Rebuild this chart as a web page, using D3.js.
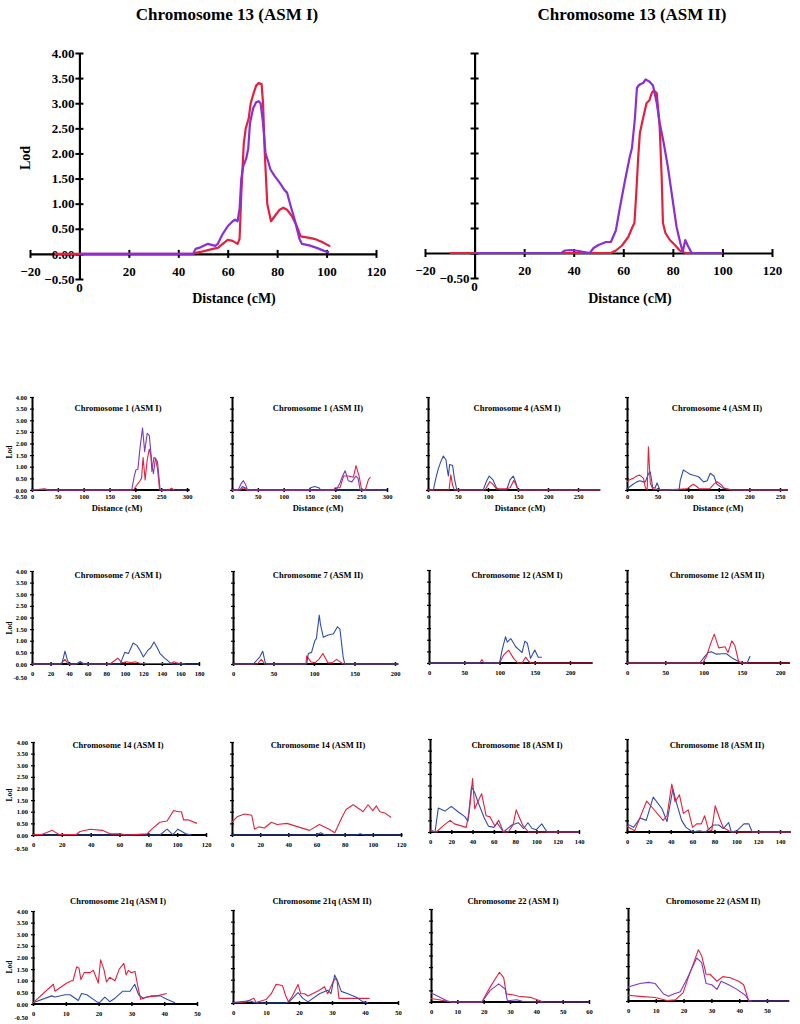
<!DOCTYPE html>
<html><head><meta charset="utf-8">
<script src="https://cdn.jsdelivr.net/npm/d3@7"></script>
<style>
body{margin:0;background:#fff}
svg{display:block}
text{font-family:"Liberation Serif","Times New Roman",serif;font-weight:bold;fill:#000}
</style>
</head><body>
<svg id="c" width="800" height="1024"></svg>
<script>
// ---------------- DATA ----------------
const bigTitles = ["Chromosome 13 (ASM I)", "Chromosome 13 (ASM II)"];
const bigXTicks = [-20, 20, 40, 60, 80, 100, 120];
const bigYTicks = [-0.5, 0, 0.5, 1, 1.5, 2, 2.5, 3, 3.5, 4];
const smallYTicks = [0, 0.5, 1, 1.5, 2, 2.5, 3, 3.5, 4];

const chr13_I_red = [[-10,0],[46,0],[47,0.02],[50,0.05],[54,0.1],[56,0.12],[58,0.2],[60,0.28],[62,0.26],[64,0.2],[64.8,0.3],[65.5,1.2],[66.5,2.2],[67.3,2.5],[68.5,2.7],[69.3,3.0],[70.5,3.2],[71.5,3.35],[72.5,3.4],[73.7,3.38],[74.3,3.0],[75,2.0],[76,1.0],[77.5,0.65],[79,0.75],[81,0.88],[82.5,0.92],[84,0.88],[86,0.75],[88,0.55],[89.5,0.35],[92,0.33],[95,0.3],[98,0.24],[101.5,0.15]];
const chr13_I_purple = [[0,0],[46,0],[47,0.1],[49,0.13],[52,0.2],[55,0.16],[56,0.2],[58,0.4],[60,0.55],[62,0.65],[63,0.68],[64,0.65],[64.8,0.9],[65.5,1.5],[66.3,1.75],[67.5,1.9],[68.3,2.1],[69,2.6],[70.3,2.9],[71.5,3.02],[72.5,3.04],[73.3,3.0],[74.3,2.6],[75.3,2.0],[76.3,1.85],[77.3,1.68],[79,1.55],[81,1.42],[83,1.27],[84,1.22],[85.5,0.95],[87,0.7],[89,0.3],[90,0.2],[93,0.17],[96,0.12],[99,0.06],[101,0.03]];
const chr13_II_red = [[-10,0],[55,0],[57,0.05],[59.5,0.15],[62,0.32],[63.7,0.52],[64.5,0.6],[65.3,1.25],[66,1.9],[66.7,2.4],[68,2.7],[69.4,3.0],[70.5,3.05],[71.5,3.2],[72.3,3.25],[73.5,3.2],[74.7,2.5],[75.5,1.5],[76,0.6],[77,0.4],[78.8,0.26],[81,0.15],[82.8,0.05],[85,0],[100,0]];
const chr13_II_purple = [[0,0],[35,0],[36.5,0.05],[39,0.06],[42,0.04],[46.5,0],[48,0.1],[50,0.16],[53,0.22],[55,0.22],[57,0.45],[58.6,0.9],[60.5,1.4],[62.6,1.92],[63.5,2.1],[64.7,2.7],[65.5,3.3],[66.2,3.35],[67,3.38],[68,3.4],[69,3.47],[70.5,3.43],[72,3.35],[73.5,3.0],[74.7,2.6],[76.3,2.2],[78,1.72],[79.8,1.1],[81.5,0.52],[83,0.2],[84,0.02],[85,0.26],[86,0.15],[87.6,0],[100,0]];

const chr1_I_purple = [[0,0],[25,0.03],[30,0],[193,0],[198,0.6],[201,0.86],[205,0.9],[209,1.8],[214,2.67],[218,1.65],[223,2.44],[227,2.35],[232,1.15],[235,0.7],[239,1.37],[243,1.2],[248,0],[300,0]];
const chr1_I_red = [[0,0],[25,0.05],[30,0],[196,0],[209,0.4],[212,0.5],[215,1.4],[219,0.43],[223,1.3],[227,1.76],[230,1.5],[232,0.8],[236,1.4],[239,1.35],[243,0.9],[247,0],[265,0],[270,0.08],[275,0]];
const chr1_II_purple = [[0,0],[12,0],[17,0.25],[22,0.4],[26,0.25],[30,0],[196,0],[203,0.05],[209,0.3],[214,0.6],[219,0.83],[225,0.4],[232,0.35],[240,0.6],[244,0.5],[248,0],[300,0]];
const chr1_II_blue = [[0,0],[15,0],[20,0.15],[25,0.1],[30,0],[148,0],[152,0.1],[160,0.15],[168,0.1],[172,0],[300,0]];
const chr1_II_red = [[0,0],[16,0],[22,0.1],[28,0],[196,0],[200,0.1],[209,0.1],[216,0.6],[225,0.6],[235,0.55],[240,1.05],[246,0.6],[251,0],[258,0],[264,0.45],[268,0.55]];

const chr4_I_blue = [[0,0],[9,0],[13,0.5],[17,0.9],[21,1.2],[25.5,1.46],[30,1.3],[32,0.9],[34,0.6],[36,1.1],[41,1.05],[44,0.5],[48,0],[92,0],[97,0.35],[102,0.6],[108,0.45],[114,0.1],[120,0],[131,0],[137,0.45],[142,0.6],[146,0.35],[150,0],[287,0]];
const chr4_I_red = [[0,0],[35,0],[38,0.65],[41,0.2],[44,0],[95,0],[103,0.36],[108,0.25],[114,0.05],[130,0.05],[137,0.1],[143,0.42],[147,0.2],[150,0],[287,0]];
const chr4_II_red = [[0,0.36],[5,0.45],[10,0.5],[16,0.6],[21,0.64],[27,0.5],[30,0.1],[33,0],[35,1.86],[38,0.3],[42,0.05],[60,0],[98,0.05],[103,0.15],[108,0.25],[114,0.15],[118,0.05],[135,0.05],[142,0.25],[147,0.36],[153,0.25],[158,0.1],[169,0],[263,0]];
const chr4_II_blue = [[0,0.05],[5,0.15],[10,0.25],[16,0.35],[21,0.4],[27,0.35],[30,0.35],[35,0.7],[38,0.78],[42,0.1],[46,0.1],[49,0.3],[54,0],[85,0],[87,0.4],[92,0.86],[97,0.78],[103,0.68],[110,0.62],[117,0.57],[125,0.35],[131,0.4],[136,0.72],[142,0.6],[147,0.25],[155,0.1],[161,0.05],[175,0],[263,0]];

const chr7_I_blue = [[0,0],[32,0],[34,0.3],[35.5,0.55],[38,0.2],[40,0],[48,0],[52,0.1],[56,0],[95,0],[97,0.2],[100,0.5],[104,0.45],[109,0.9],[113,0.8],[117,0.55],[120,0.3],[125,0.6],[128,0.7],[131.5,0.95],[135,0.7],[138,0.45],[143,0.25],[149,0.05],[152,0],[180,0]];
const chr7_I_red = [[0,0],[31,0],[35.5,0.2],[39,0],[48,0],[52,0.1],[56,0],[84,0],[92.5,0.25],[97,0.05],[102,0.1],[107,0.05],[111,0.1],[117,0.02],[150,0.02],[153,0.1],[157,0.03],[161,0.03],[165,0]];
const chr7_II_blue = [[0,0],[25,0],[33,0.3],[36.7,0.55],[39.5,0.1],[41,0],[91,0],[93,0.45],[97,0.5],[101,1.0],[103,1.1],[106.5,2.1],[108,1.7],[111.5,1.15],[117.6,1.25],[124,1.3],[129,1.6],[132,1.5],[136,0.3],[138,0],[204,0]];
const chr7_II_red = [[0,0],[30,0],[35,0.2],[39,0],[90,0],[91,0.35],[96,0.1],[101,0.05],[106,0.2],[111,0.45],[117,0.05],[122,0.05],[128,0.2],[136,0],[204,0]];

const chr12_I_blue = [[0,0],[100,0],[104,0.6],[108.6,1.13],[111,0.9],[116,1.05],[123,0.7],[132,0.45],[136,0.94],[139.5,0.85],[144,0.2],[150,0.56],[155,0.25],[160,0.25]];
const chr12_I_red = [[0,0],[72,0],[75,0.15],[78,0],[100,0],[106,0.35],[113,0.55],[120,0.2],[126,0],[132,0],[137,0.25],[142,0.05],[145,0],[232,0]];
const chr12_II_red = [[0,0],[99,0],[104,0.3],[109,0.8],[114,1.24],[120,0.65],[128,0.7],[132,0.45],[137,0.95],[141,0.75],[146,0.05],[150,0],[213,0]];
const chr12_II_blue = [[0,0],[95,0],[101,0.25],[106,0.45],[110,0.48],[117,0.38],[124,0.4],[130,0.4],[138,0.2],[144,0.1],[150,0],[157,0],[161,0.3]];

const chr14_I_red = [[0,0.02],[6,0.02],[13.4,0.2],[18,0.02],[30,0.02],[32.6,0.15],[39.6,0.25],[48,0.2],[53.5,0.05],[60.5,0.05],[65,0],[79,0.05],[82.4,0.25],[88,0.55],[93,0.6],[97.5,1.05],[101,1.0],[103,1.0],[104.4,0.65],[108,0.65],[113.7,0.5]];
const chr14_I_blue = [[0,0],[88,0],[93,0.25],[97,0.02],[100.5,0.25],[106,0.05],[110,0]];
const chr14_II_red = [[0,0.55],[4,0.8],[9,0.9],[14,0.85],[16,0.25],[19,0.35],[23,0.3],[28,0.55],[32,0.45],[39,0.5],[47,0.35],[55,0.2],[62,0.45],[69,0.25],[73,0.1],[78,0.75],[81,1.1],[86,1.3],[91,1.1],[93,1.0],[96.6,1.3],[100,1.05],[102.5,1.25],[105,1.0],[108.5,0.95],[113,0.75]];
const chr14_II_blue = [[0,0],[60,0],[63,0.1],[66,0],[88,0],[91,0.05],[94,0],[120,0]];

const chr18_I_blue = [[0,0.1],[4.7,0],[7.8,1.03],[14,0.9],[20,1.1],[27,0.85],[33,0.65],[35.6,0.45],[39,1.95],[42,1.7],[45,1.3],[51,0.6],[55,0.25],[60,0.2],[63,0.4],[69,0],[77,0.3],[83,0.4],[88,0.15],[92,0.4],[96,0.15],[100,0.1],[105,0.35],[110,0],[140,0]];
const chr18_I_red = [[0,0.05],[6,0],[12,0.25],[19,0.5],[23,0.35],[34,0.2],[37,0.9],[40,2.3],[42,1.0],[45,1.3],[48.5,1.65],[52.7,0.7],[56.5,0.65],[61,0.25],[64.5,0.5],[69,0],[73.5,0],[78,0.3],[81,0.95],[87,0.3],[92.6,0],[140,0]];
const chr18_II_blue = [[0,0.35],[6,0.2],[12,0.6],[17.6,0.5],[24,1.5],[32,1.0],[36.6,0.45],[42,1.85],[45.6,1.2],[50,0.5],[54,0.2],[60,0],[66,0.05],[72,0],[79,0.3],[84,0.3],[88,0.15],[93,0.4],[95.5,0],[100.5,0.05],[107,0.35],[111.5,0.35],[114.6,0],[150,0]];
const chr18_II_red = [[0,0.25],[7,0.05],[18,1.33],[24,1.0],[33,0.5],[36.6,0.7],[41,2.06],[44,1.3],[48,1.6],[51.6,0.8],[56,0.95],[60,0.2],[63.8,0.35],[68,0.35],[71,0.7],[74.5,0.1],[77.5,0.05],[80.7,1.13],[85,0.55],[88,0.2],[93,0.05],[96,0],[150,0]];

const chr21_I_red = [[0,0.05],[6.2,0.85],[6.7,0.55],[10.3,0.9],[11.8,1.0],[12.2,1.0],[13.3,1.6],[14,1.55],[14.6,1.05],[15.6,1.35],[17.4,1.35],[18.4,1.45],[19.9,0.9],[20.6,1.9],[21.6,1.5],[22.4,0.95],[23.4,1.15],[25,1.0],[26.3,1.5],[27.7,1.75],[28.4,1.25],[29.1,1.45],[29.9,1.35],[31.1,1.4],[31.9,0.8],[32.8,0.2],[34.6,0.3],[37.7,0.35],[40.8,0.45]];
const chr21_I_blue = [[0,0.05],[5.7,0.35],[6.7,0.3],[9.8,0.4],[11.3,0.4],[13.8,0.15],[14.8,0.45],[16.4,0.4],[19.4,0.1],[20.2,0.05],[21.9,0.3],[23.4,0.1],[25,0.25],[27.4,0.55],[29.6,0.55],[31,0.85],[32.2,0.4],[33.6,0.25],[36.2,0.35],[38.8,0.35],[40.8,0.2],[43.3,0.05]];
const chr21_II_red = [[0,0],[4,0.05],[6.3,0.2],[7,0.02],[10,0.15],[11.6,0.4],[13,0.8],[15,0.75],[16,0.3],[16.8,0.05],[18,0.3],[19.7,0.8],[20.5,0.4],[21.7,0.4],[22.7,0.3],[26.2,0.55],[27.7,0.7],[28.7,0.4],[30.3,0.9],[31,1.05],[31.5,1.0],[32.1,0.2],[34.3,0.2],[39.4,0.2],[41.4,0.2]];
const chr21_II_blue = [[0,0.02],[5,0.1],[7,0],[16,0],[17,0.05],[19.7,0.45],[21.2,0.2],[22.7,0.05],[26.2,0.4],[28.7,0.55],[29.7,0.4],[30.8,1.2],[31.8,0.9],[32.8,0.5],[34.8,0.4],[37.4,0.25],[39.4,0.05],[40.9,0.02]];

const chr22_I_purple = [[0,0.4],[6,0.05],[7.9,0],[19.3,0],[22.5,0.5],[25.7,0.78],[28.2,0.55],[29,0.05],[32.6,0.1],[35,0.02],[41.4,0],[60,0]];
const chr22_I_red = [[0,0.15],[3,0.1],[7.6,0],[19.3,0],[22.5,0.65],[26,1.28],[27.6,1.05],[28.6,0.35],[31.4,0.3],[33.3,0.25],[37.7,0.2],[41.4,0.05],[42.6,0]];
const chr22_II_purple = [[0,0.6],[4.3,0.75],[7.4,0.8],[9.8,0.75],[12.8,0.3],[14.6,0.2],[16.4,0.3],[18.8,0.4],[21.2,0.95],[24.7,1.85],[26.5,1.65],[28.1,0.75],[30.1,0.7],[32,0.5],[33.5,0.85],[36.2,0.7],[39.2,0.5],[42.2,0.25],[43.6,0],[58,0]];
const chr22_II_red = [[0,0.25],[4.3,0.2],[9.8,0.15],[14,0.02],[17,0.05],[19.8,0.35],[21.8,1.05],[25.3,2.2],[26.5,1.95],[28.1,1.15],[29.5,1.15],[32,0.85],[34.1,1.05],[36.8,1.0],[39.8,0.85],[41.6,0.7],[43.4,0],[44.6,0]];

// chart definitions (content)
const smallTitles = [
  "Chromosome 1 (ASM I)","Chromosome 1 (ASM II)","Chromosome 4 (ASM I)","Chromosome 4 (ASM II)",
  "Chromosome 7 (ASM I)","Chromosome 7 (ASM II)","Chromosome 12 (ASM I)","Chromosome 12 (ASM II)",
  "Chromosome 14 (ASM I)","Chromosome 14 (ASM II)","Chromosome 18 (ASM I)","Chromosome 18 (ASM II)",
  "Chromosome 21q (ASM I)","Chromosome 21q (ASM II)","Chromosome 22 (ASM I)","Chromosome 22 (ASM II)"];
const smallTickStep = [50,50,50,50, 20,50,50,50, 20,20,20,20, 10,10,10,10];
const smallTickMax  = [300,300,250,250, 180,200,200,200, 120,120,140,140, 50,50,60,50];
const smallAxisMax  = [305,302,287,263, 180,204,232,213, 120,121,140,150, 50,50,60,58];
const smallSeries = [
  [["red",chr1_I_red],["purple",chr1_I_purple]],
  [["blue",chr1_II_blue],["red",chr1_II_red],["purple",chr1_II_purple]],
  [["blue",chr4_I_blue],["red",chr4_I_red]],
  [["blue",chr4_II_blue],["red",chr4_II_red]],
  [["red",chr7_I_red],["blue",chr7_I_blue]],
  [["red",chr7_II_red],["blue",chr7_II_blue]],
  [["red",chr12_I_red],["blue",chr12_I_blue]],
  [["blue",chr12_II_blue],["red",chr12_II_red]],
  [["blue",chr14_I_blue],["red",chr14_I_red]],
  [["blue",chr14_II_blue],["red",chr14_II_red]],
  [["blue",chr18_I_blue],["red",chr18_I_red]],
  [["blue",chr18_II_blue],["red",chr18_II_red]],
  [["blue",chr21_I_blue],["red",chr21_I_red]],
  [["red",chr21_II_red],["blue",chr21_II_blue]],
  [["red",chr22_I_red],["purple",chr22_I_purple]],
  [["red",chr22_II_red],["purple",chr22_II_purple]]
];
const bigSeries = [
  [["red",chr13_I_red],["purple",chr13_I_purple]],
  [["red",chr13_II_red],["purple",chr13_II_purple]]
];

// ---------------- STYLE / LAYOUT ----------------
const COLORS = {red:"#e5203f", purple:"#8a2fd6", blue:"#2d4db3"};
const SMALL_PURPLE = "#7a3ac6";
const svg = d3.select("#c");

const bigLayout = [
  {x0:30, x1:376, yb:279, yt:53, labels:true, titleX:227, distX:234},
  {x0:425, x1:772, yb:278, yt:53, labels:false, titleX:632, distX:630}
];

function drawBig(i){
  const L = bigLayout[i];
  const x = d3.scaleLinear().domain([-20,120]).range([L.x0, L.x1]);
  const y = d3.scaleLinear().domain([-0.5,4]).range([L.yb, L.yt]);
  const g = svg.append("g");
  // x axis
  const gx = g.append("g").attr("transform",`translate(0,${y(0)})`)
    .call(d3.axisBottom(x).tickValues(bigXTicks).tickSize(4).tickSizeOuter(0).tickPadding(9).tickFormat(d3.format("d")));
  gx.select(".domain").attr("stroke","#000").attr("stroke-width",2.2);
  gx.selectAll(".tick line").attr("y1",-4).attr("stroke","#000").attr("stroke-width",2);
  gx.selectAll(".tick text").style("font-size","13px").attr("fill","#000");
  // y axis
  const gy = g.append("g").attr("transform",`translate(${x(0)},0)`)
    .call(d3.axisLeft(y).tickValues(bigYTicks).tickSize(4).tickSizeOuter(0).tickPadding(1)
      .tickFormat(d => (L.labels || d < 0) ? d3.format(".2f")(d) : ""));
  gy.select(".domain").attr("stroke","#000").attr("stroke-width",2.2);
  gy.selectAll(".tick line").attr("x1",4).attr("stroke","#000").attr("stroke-width",2);
  gy.selectAll(".tick text").style("font-size","13px").attr("fill","#000");
  // origin "0" label
  g.append("text").attr("x",x(0)).attr("y",y(-0.5)+13).attr("text-anchor","middle").style("font-size","13px").text("0");
  // series
  const line = d3.line().x(d=>x(d[0])).y(d=>y(d[1]));
  bigSeries[i].forEach(([c,data])=>{
    g.append("path").datum(data).attr("d",line).attr("fill","none")
      .attr("stroke",COLORS[c]).attr("stroke-width",2.2).attr("stroke-linejoin","round");
  });
  // title & labels
  g.append("text").attr("x",L.titleX).attr("y",20).attr("text-anchor","middle").style("font-size","17px").text(bigTitles[i]);
  g.append("text").attr("x",L.distX).attr("y",303).attr("text-anchor","middle").style("font-size","14px").text("Distance (cM)");
  if (L.labels) {
    g.append("text").attr("transform","translate(30,158) rotate(-90)").attr("text-anchor","middle").style("font-size","14px").text("Lod");
  }
}
drawBig(0); drawBig(1);

const colX = [[32,187],[232,387],[428,578],[627,780],
              [32,199],[233,395],[429,570],[627,780],
              [33,206],[232,401],[430,579],[627,780],
              [33,197],[233,398],[431,589],[628,767]];
const zeroY = [490,490,490,490, 664,664,663,663, 835,835,832,832, 1004,1003,1002,1001];
const titleX = [118,318,517,717];
const titleY = [411,578,748,904];
const xLabOff = [7,10,10,10];
const negLabOff = [7,14,14,14];
const lodY = [452,628,795,967];
const distX = [117,318,520,718];

function drawSmall(i){
  const row = Math.floor(i/4), col = i%4;
  const [a,b] = colX[i];
  const y0 = zeroY[i];
  const x = d3.scaleLinear().domain([0, smallTickMax[i]]).range([a,b]);
  const y = d3.scaleLinear().domain([0,4]).range([y0, y0-93]);
  const g = svg.append("g");
  const ticks = d3.range(0, smallTickMax[i]+0.001, smallTickStep[i]);
  // x axis line
  g.append("line").attr("x1",x(0)).attr("x2",x(smallAxisMax[i])).attr("y1",y0).attr("y2",y0)
    .attr("stroke","#000").attr("stroke-width",2);
  const gx = g.append("g").attr("transform",`translate(0,${y0})`)
    .call(d3.axisBottom(x).tickValues(ticks).tickSize(2).tickSizeOuter(0).tickPadding(0).tickFormat(d3.format("d")));
  gx.select(".domain").remove();
  gx.selectAll(".tick line").attr("y1",-2).attr("stroke","#000").attr("stroke-width",1.5);
  gx.selectAll(".tick text").attr("y",xLabOff[row]).attr("dy","0.35em").style("font-size","6.5px").attr("fill","#000");
  // y axis
  const gy = g.append("g").attr("transform",`translate(${x(0)},0)`)
    .call(d3.axisLeft(y).tickValues(smallYTicks).tickSize(2).tickSizeOuter(0).tickPadding(3)
      .tickFormat(d => col===0 ? d3.format(".2f")(d) : ""));
  gy.select(".domain").attr("stroke","#000").attr("stroke-width",2);
  gy.selectAll(".tick line").attr("x1",2).attr("stroke","#000").attr("stroke-width",1.2);
  gy.selectAll(".tick text").style("font-size","6.5px").attr("fill","#000");
  if (col===0) {
    g.append("text").attr("x",x(0)-5).attr("y",y0+negLabOff[row]).attr("dy","0.35em")
      .attr("text-anchor","end").style("font-size","6.5px").text("-0.50");
    g.append("text").attr("transform",`translate(12,${lodY[row]}) rotate(-90)`)
      .attr("text-anchor","middle").style("font-size","7.5px").text("Lod");
  }
  // series
  const line = d3.line().x(d=>x(d[0])).y(d=>y(d[1]));
  smallSeries[i].forEach(([c,data])=>{
    g.append("path").datum(data).attr("d",line).attr("fill","none")
      .attr("stroke", c==="purple" ? SMALL_PURPLE : COLORS[c]).attr("stroke-width",1.1).attr("stroke-linejoin","round");
  });
  // title
  g.append("text").attr("x", row===3 && col===1 ? 322 : row===3 && col>1 ? titleX[col]-4 : titleX[col])
    .attr("y",titleY[row]).attr("text-anchor","middle").style("font-size","8.5px").text(smallTitles[i]);
  if (row===0) {
    g.append("text").attr("x",distX[col]).attr("y",511).attr("text-anchor","middle").style("font-size","8.5px").text("Distance (cM)");
  }
}
for (let i=0;i<16;i++) drawSmall(i);
</script>
</body></html>
